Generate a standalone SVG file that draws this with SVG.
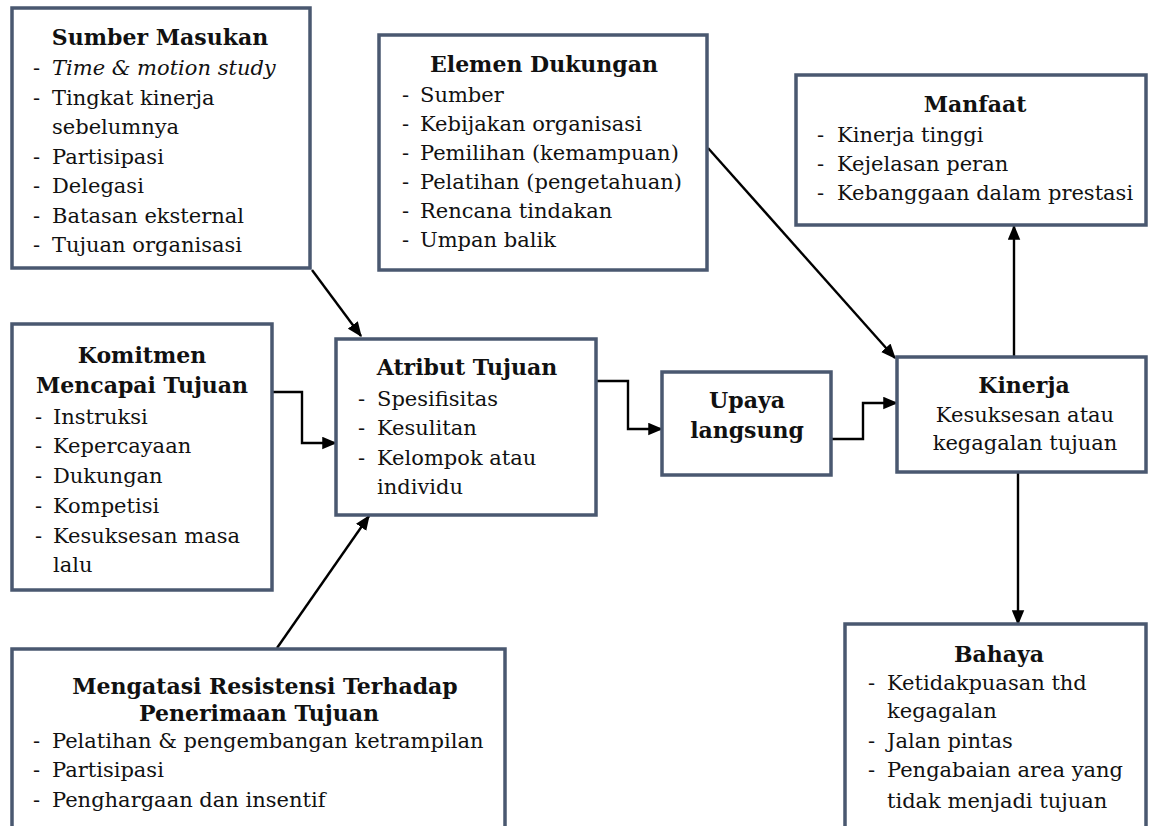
<svg xmlns="http://www.w3.org/2000/svg" width="1150" height="826" viewBox="0 0 1150 826">
<style>
  .box { fill: #ffffff; stroke: #4a5870; stroke-width: 3.5; }
  text { font-family: "DejaVu Serif", "Liberation Serif", serif; font-size: 21px; fill: #111111; }
  .t { font-weight: bold; font-size: 22px; text-anchor: middle; }
  .c { text-anchor: middle; }
  .i { font-style: italic; }
  .conn { fill: none; stroke: #000000; stroke-width: 2.4; }
</style>
<defs>
  <marker id="ah" viewBox="0 0 12 10" refX="11" refY="5" markerWidth="15" markerHeight="13" markerUnits="userSpaceOnUse" orient="auto">
    <path d="M0,0 L12,5 L0,10 z" fill="#000000"/>
  </marker>
</defs>
<rect width="1150" height="826" fill="#ffffff"/>

<g id="connectors">
  <path class="conn" d="M312,270 L361,336" marker-end="url(#ah)"/>
  <path class="conn" d="M272,392 H302 V443 H336" marker-end="url(#ah)"/>
  <path class="conn" d="M277,648 L369,516" marker-end="url(#ah)"/>
  <path class="conn" d="M596,381 H628 V429 H662" marker-end="url(#ah)"/>
  <path class="conn" d="M831,439 H863 V403 H897" marker-end="url(#ah)"/>
  <path class="conn" d="M708,148 L895,358" marker-end="url(#ah)"/>
  <path class="conn" d="M1014,357 V226" marker-end="url(#ah)"/>
  <path class="conn" d="M1018,472 V624" marker-end="url(#ah)"/>
</g>

<g id="sumber-masukan">
  <rect class="box" x="12" y="8" width="298" height="260"/>
  <text class="t" x="160" y="45">Sumber Masukan</text>
  <text x="33" y="75">-</text><text class="i" x="52" y="75">Time &amp; motion study</text>
  <text x="33" y="104.5">-</text><text x="52" y="104.5">Tingkat kinerja</text>
  <text x="52" y="134">sebelumnya</text>
  <text x="33" y="163.5">-</text><text x="52" y="163.5">Partisipasi</text>
  <text x="33" y="193">-</text><text x="52" y="193">Delegasi</text>
  <text x="33" y="222.5">-</text><text x="52" y="222.5">Batasan eksternal</text>
  <text x="33" y="252">-</text><text x="52" y="252">Tujuan organisasi</text>
</g>

<g id="elemen-dukungan">
  <rect class="box" x="379" y="35" width="328" height="235"/>
  <text class="t" x="544" y="72">Elemen Dukungan</text>
  <text x="402" y="102">-</text><text x="420" y="102">Sumber</text>
  <text x="402" y="131">-</text><text x="420" y="131">Kebijakan organisasi</text>
  <text x="402" y="160">-</text><text x="420" y="160">Pemilihan (kemampuan)</text>
  <text x="402" y="189">-</text><text x="420" y="189">Pelatihan (pengetahuan)</text>
  <text x="402" y="218">-</text><text x="420" y="218">Rencana tindakan</text>
  <text x="402" y="247">-</text><text x="420" y="247">Umpan balik</text>
</g>

<g id="manfaat">
  <rect class="box" x="796" y="75" width="350" height="150"/>
  <text class="t" x="975" y="112">Manfaat</text>
  <text x="817" y="142">-</text><text x="837" y="142">Kinerja tinggi</text>
  <text x="817" y="171">-</text><text x="837" y="171">Kejelasan peran</text>
  <text x="817" y="200">-</text><text x="837" y="200">Kebanggaan dalam prestasi</text>
</g>

<g id="komitmen">
  <rect class="box" x="12" y="324" width="260" height="266"/>
  <text class="t" x="142" y="363">Komitmen</text>
  <text class="t" x="142" y="393">Mencapai Tujuan</text>
  <text x="35" y="424">-</text><text x="53" y="424">Instruksi</text>
  <text x="35" y="453">-</text><text x="53" y="453">Kepercayaan</text>
  <text x="35" y="483">-</text><text x="53" y="483">Dukungan</text>
  <text x="35" y="513">-</text><text x="53" y="513">Kompetisi</text>
  <text x="35" y="543">-</text><text x="53" y="543">Kesuksesan masa</text>
  <text x="53" y="572">lalu</text>
</g>

<g id="atribut-tujuan">
  <rect class="box" x="336" y="339" width="260" height="176"/>
  <text class="t" x="467" y="375">Atribut Tujuan</text>
  <text x="358" y="406">-</text><text x="377" y="406">Spesifisitas</text>
  <text x="358" y="435">-</text><text x="377" y="435">Kesulitan</text>
  <text x="358" y="465">-</text><text x="377" y="465">Kelompok atau</text>
  <text x="377" y="494">individu</text>
</g>

<g id="upaya-langsung">
  <rect class="box" x="662" y="372" width="169" height="103"/>
  <text class="t" x="747" y="408">Upaya</text>
  <text class="t" x="747" y="438">langsung</text>
</g>

<g id="kinerja">
  <rect class="box" x="897" y="357" width="249" height="115"/>
  <text class="t" x="1024" y="393">Kinerja</text>
  <text class="c" x="1025" y="422">Kesuksesan atau</text>
  <text class="c" x="1025" y="450">kegagalan tujuan</text>
</g>

<g id="mengatasi-resistensi">
  <rect class="box" x="12" y="649" width="493" height="200"/>
  <text class="t" x="265" y="694">Mengatasi Resistensi Terhadap</text>
  <text class="t" x="259" y="721">Penerimaan Tujuan</text>
  <text x="33" y="748">-</text><text x="52" y="748">Pelatihan &amp; pengembangan ketrampilan</text>
  <text x="33" y="777">-</text><text x="52" y="777">Partisipasi</text>
  <text x="33" y="807">-</text><text x="52" y="807">Penghargaan dan insentif</text>
</g>

<g id="bahaya">
  <rect class="box" x="845" y="624" width="301" height="220"/>
  <text class="t" x="999" y="662">Bahaya</text>
  <text x="868" y="690">-</text><text x="887" y="690">Ketidakpuasan thd</text>
  <text x="887" y="718">kegagalan</text>
  <text x="868" y="748">-</text><text x="887" y="748">Jalan pintas</text>
  <text x="868" y="777">-</text><text x="887" y="777">Pengabaian area yang</text>
  <text x="887" y="808">tidak menjadi tujuan</text>
</g>
</svg>
